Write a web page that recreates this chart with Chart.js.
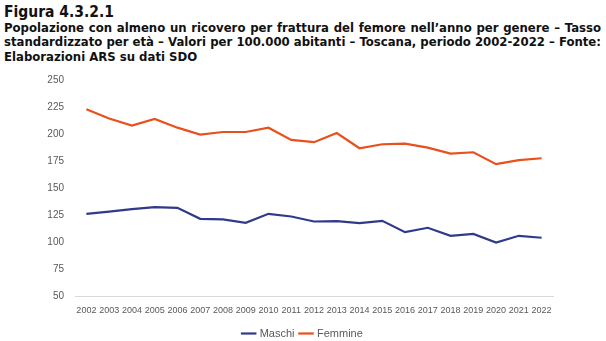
<!DOCTYPE html>
<html>
<head>
<meta charset="utf-8">
<script src="https://cdn.jsdelivr.net/npm/chart.js@4"></script>
<style>
  html, body { margin: 0; padding: 0; background: #fff; }
  body { width: 606px; height: 341px; overflow: hidden; position: relative; }
  #title { position: absolute; left: 4px; top: 3px; width: 597px; color: #111; font-family: "DejaVu Sans Condensed", "DejaVu Sans", sans-serif; font-weight: bold; }
  #title .fig { font-size: 15.5px; line-height: 18px; }
  #title .ln { font-size: 13px; line-height: 14.3px; text-align: justify; text-align-last: justify; white-space: nowrap; }
  #title .last { text-align-last: left; }
  #wrap { position: absolute; left: 0; top: 63px; width: 606px; height: 286px; }
</style>
</head>
<body>
<div id="title">
  <div class="fig">Figura 4.3.2.1</div>
  <div class="ln">Popolazione con almeno un ricovero per frattura del femore nell’anno per genere – Tasso</div>
  <div class="ln">standardizzato per età – Valori per 100.000 abitanti – Toscana, periodo 2002-2022 – Fonte:</div>
  <div class="ln last">Elaborazioni ARS su dati SDO</div>
</div>
<div id="wrap"><canvas id="c"></canvas></div>
<script>
const years = ["2002","2003","2004","2005","2006","2007","2008","2009","2010","2011","2012","2013","2014","2015","2016","2017","2018","2019","2020","2021","2022"];
const maschi = [126.5,128.6,130.8,132.7,132.0,121.9,121.3,118.2,126.5,124.0,119.4,119.8,117.9,120.0,109.6,113.6,106.2,108.0,100.0,106.2,104.4];
const femmine = [223.0,214.5,208.0,214.0,206.0,199.6,202.0,202.0,206.0,194.7,192.6,201.0,187.0,190.7,191.3,187.6,182.0,183.3,172.3,176.0,177.8];
const yTicks = [50,75,100,125,150,175,200,225,250];

new Chart(document.getElementById('c'), {
  type: 'line',
  data: {
    labels: years,
    datasets: [
      { label: 'Maschi', data: maschi, borderColor: '#2f3a8a', backgroundColor: '#2f3a8a', borderWidth: 2.2, pointRadius: 0, tension: 0 },
      { label: 'Femmine', data: femmine, borderColor: '#e8501c', backgroundColor: '#e8501c', borderWidth: 2.2, pointRadius: 0, tension: 0 }
    ]
  },
  options: {
    responsive: true,
    maintainAspectRatio: false,
    animation: false,
    layout: { padding: { top: 4, right: 0, left: 0, bottom: 0 } },
    plugins: {
      legend: {
        position: 'bottom',
        labels: {
          usePointStyle: true, pointStyle: 'line', boxWidth: 20,
          color: '#595959', font: { family: 'Liberation Sans', size: 11 }, padding: 6
        }
      },
      tooltip: { enabled: false }
    },
    scales: {
      x: {
        offset: true,
        grid: { display: false, drawTicks: false },
        border: { color: '#d9d9d9', width: 1 },
        ticks: { color: '#595959', font: { family: 'Liberation Sans', size: 9 }, maxRotation: 0, autoSkip: false, padding: 8.5 },
        afterFit: (s) => { s.height -= 2.5; }
      },
      y: {
        min: 50, max: 250,
        afterBuildTicks: (s) => { s.ticks = yTicks.map(v => ({ value: v })); },
        afterFit: (s) => { s.width = 75; },
        grid: { display: false, drawTicks: false },
        border: { display: false },
        ticks: { color: '#595959', font: { family: 'Liberation Sans', size: 10 }, padding: 11 }
      },
      yRight: {
        position: 'right',
        min: 50, max: 250,
        grid: { display: false, drawTicks: false },
        border: { display: false },
        ticks: { display: false },
        afterFit: (s) => { s.width = 53; }
      }
    }
  }
});
</script>
</body>
</html>
